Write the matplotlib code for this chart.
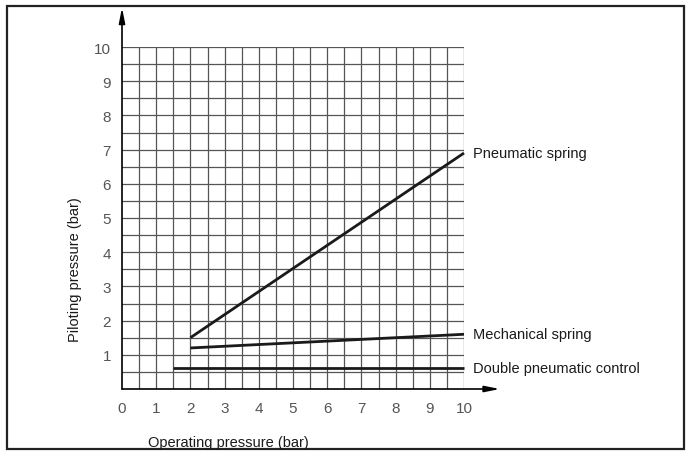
import matplotlib
matplotlib.use("Agg")
import matplotlib.pyplot as plt
import numpy as np

plt.rcParams['font.family'] = ['Liberation Sans Narrow', 'Liberation Sans', 'DejaVu Sans']

# curve data
series_names = ['Pneumatic spring', 'Mechanical spring', 'Double pneumatic control']
pneumatic_x = [2, 10]
pneumatic_y = [1.5, 6.9]
mechanical_x = [2, 10]
mechanical_y = [1.2, 1.6]
double_x = [1.5, 10]
double_y = [0.6, 0.6]

x_ticks = list(range(0, 11))
y_ticks = list(range(1, 11))

W, H = 690, 456
fig = plt.figure(figsize=(W / 100, H / 100), dpi=100)

# outer frame
fig.add_artist(plt.Rectangle((7 / W, 1 - 450 / H), 677 / W, 443 / H,
                             transform=fig.transFigure, fill=False,
                             edgecolor='#222222', linewidth=1.6))

ax = fig.add_axes([122 / W, 1 - 390 / H, 342 / W, 342 / H])
ax.set_xlim(0, 10)
ax.set_ylim(0, 10)

# grid at 0.5 bar
for v in np.arange(0.5, 10.01, 0.5):
    ax.axvline(v, color='#555555', linewidth=0.9, zorder=1)
    ax.axhline(v, color='#555555', linewidth=0.9, zorder=1)

for s in ax.spines.values():
    s.set_visible(False)
ax.tick_params(length=0, labelsize=11, colors='#555555')
ax.set_xticks(x_ticks)
ax.set_yticks(y_ticks)
ax.tick_params(axis='x', pad=9)
ax.tick_params(axis='y', pad=8)

# axes with arrows
ax.annotate('', xy=(0, 1.115), xycoords='axes fraction', xytext=(0, 0),
            arrowprops=dict(arrowstyle='-|>,head_length=0.9,head_width=0.18',
                            color='black', lw=1.2, shrinkA=0, shrinkB=0))
ax.annotate('', xy=(1.105, 0), xycoords='axes fraction', xytext=(0, 0),
            arrowprops=dict(arrowstyle='-|>,head_length=0.9,head_width=0.18',
                            color='black', lw=1.2, shrinkA=0, shrinkB=0))

# curves
lines = [(pneumatic_x, pneumatic_y), (mechanical_x, mechanical_y), (double_x, double_y)]
for (xs, ys), name in zip(lines, series_names):
    ax.plot(xs, ys, color='#1a1a1a', linewidth=2.0, solid_capstyle='butt', zorder=3,
            clip_on=False)
    ax.text(xs[-1] + 0.25, ys[-1], name, fontsize=10.5, va='center', ha='left',
            color='#1a1a1a', clip_on=False)

# axis titles
fig.text(75 / W, 1 - 270 / H, 'Piloting pressure (bar)', rotation=90,
         ha='center', va='center', fontsize=10.5, color='#1a1a1a')
fig.text(148 / W, 1 - 443 / H, 'Operating pressure (bar)', ha='left',
         va='center', fontsize=10.5, color='#1a1a1a')

fig.savefig('out.png', dpi=100)
